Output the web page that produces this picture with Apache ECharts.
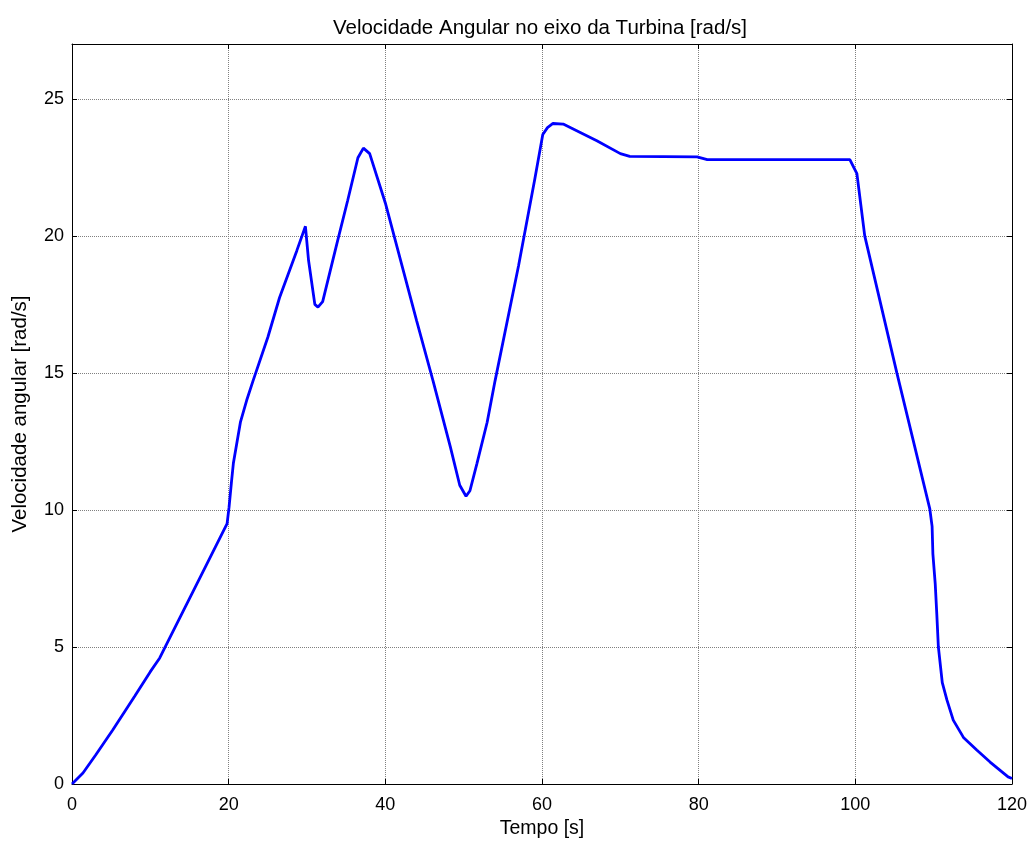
<!DOCTYPE html>
<html>
<head>
<meta charset="utf-8">
<title>Velocidade Angular no eixo da Turbina</title>
<script src="https://cdn.jsdelivr.net/npm/echarts@6/dist/echarts.min.js"></script>
<style>
    html, body { margin: 0; padding: 0; background: #ffffff; }
    #chart { width: 1029px; height: 841px; }
</style>
</head>
<body>
<div id="chart"></div>
<script>
// 数据 - 点 (tempo [s], velocidade [rad/s])
const tempo = [
    0, 1.4, 3, 5.2, 8, 10, 11.2, 11.9, 14, 17, 19.8,
    20.05, 20.35, 20.6, 21.5, 22.3, 23.1, 25, 26.5, 28.7, 29.8,
    30.2, 31.0, 31.4, 32.0, 33.8, 35.2, 36.5, 37.2, 38.0, 40.0,
    44.0, 46.1, 48.3, 49.5, 50.3, 50.8, 51.7, 53.0, 54.0, 57.0,
    59.1, 60.1, 60.7, 61.4, 62.7, 67.0, 70.0, 71.2, 79.8, 81.1,
    99.3, 100.2, 101.2, 105.3, 109.5, 109.8, 109.9, 110.2, 110.4, 110.6,
    111.1, 111.7, 112.5, 113.8, 115.5, 117.2, 119.5, 120
];
const velocidade = [
    0, 0.4, 1.05, 1.97, 3.2, 4.1, 4.6, 5.0, 6.2, 7.9, 9.5,
    10.1, 11.0, 11.7, 13.2, 14.0, 14.7, 16.3, 17.75, 19.46, 20.35,
    19.1, 17.5, 17.4, 17.6, 19.7, 21.3, 22.85, 23.2, 23.0, 21.2,
    16.9, 14.7, 12.3, 10.9, 10.5, 10.7, 11.7, 13.2, 14.7, 18.9,
    22.1, 23.7, 23.95, 24.1, 24.08, 23.47, 23.0, 22.9, 22.88, 22.78,
    22.78, 22.27, 20.0, 15.0, 10.05, 9.4, 8.4, 7.3, 6.2, 5.0,
    3.7, 3.06, 2.33, 1.7, 1.24, 0.8, 0.26, 0.2
];
const xTicks = [0, 20, 40, 60, 80, 100, 120];
const yTicks = [0, 5, 10, 15, 20, 25];

const titulo = 'Velocidade Angular no eixo da Turbina [rad/s]';
const nomeX = 'Tempo [s]';
const nomeY = 'Velocidade angular [rad/s]';

const fonte = '"Liberation Sans", Arial, sans-serif';
const pontos = tempo.map((t, i) => [t, velocidade[i]]);

// 轴的公共样式 (MATLAB 风格: 黑框, 内刻度, 点状网格)
function eixo(extra) {
    return Object.assign({
        type: 'value',
        axisLine: { show: true, onZero: false, lineStyle: { color: '#000000', width: 1 } },
        axisTick: { show: true, inside: true, length: 5, lineStyle: { color: '#000000', width: 1 } },
        splitLine: { show: false },
        axisLabel: { show: false }
    }, extra);
}

const chart = echarts.init(document.getElementById('chart'), null, { renderer: 'canvas' });

const option = {
    backgroundColor: '#ffffff',
    animation: false,
    title: {
        text: titulo,
        left: 535,
        textAlign: 'center',
        top: 13,
        textStyle: { fontFamily: fonte, fontSize: 20.5, fontWeight: 'normal', color: '#000000' }
    },
    // 固定绘图区, 不让 v6 的 outerBounds 自动收缩
    grid: { left: 72, right: 17, top: 44, bottom: 57, containLabel: false, outerBoundsMode: 'none' },
    xAxis: [
        eixo({
            position: 'bottom',
            min: 0, max: 120, interval: 20,
            name: nomeX,
            nameLocation: 'middle',
            nameGap: 30,
            nameTextStyle: { fontFamily: fonte, fontSize: 19.5, color: '#000000' },
            axisLabel: {
                show: true, margin: 12, fontFamily: fonte, fontSize: 18, color: '#000000',
                formatter: v => xTicks.includes(v) ? String(v) : ''
            },
            splitLine: { show: true, lineStyle: { color: '#808080', type: 'dotted', width: 1 } }
        }),
        eixo({ position: 'top', min: 0, max: 120, interval: 20 })
    ],
    yAxis: [
        eixo({
            position: 'left',
            min: 0, max: 27, interval: 5,
            name: nomeY,
            nameLocation: 'middle',
            nameGap: 41,
            nameRotate: 90,
            nameTextStyle: { fontFamily: fonte, fontSize: 20.5, color: '#000000' },
            axisLabel: {
                show: true, margin: 8, fontFamily: fonte, fontSize: 18, color: '#000000',
                formatter: v => yTicks.includes(v) ? String(v) : ''
            },
            splitLine: { show: true, lineStyle: { color: '#808080', type: 'dotted', width: 1 } }
        }),
        eixo({ position: 'right', min: 0, max: 27, interval: 5 })
    ],
    series: [{
        type: 'line',
        xAxisIndex: 0,
        yAxisIndex: 0,
        data: pontos,
        showSymbol: false,
        symbol: 'none',
        smooth: false,
        lineStyle: { color: '#0000ff', width: 2.8 },
        itemStyle: { color: '#0000ff' }
    }]
};

chart.setOption(option);
console.log('✅ Chart rendered');
</script>
</body>
</html>
